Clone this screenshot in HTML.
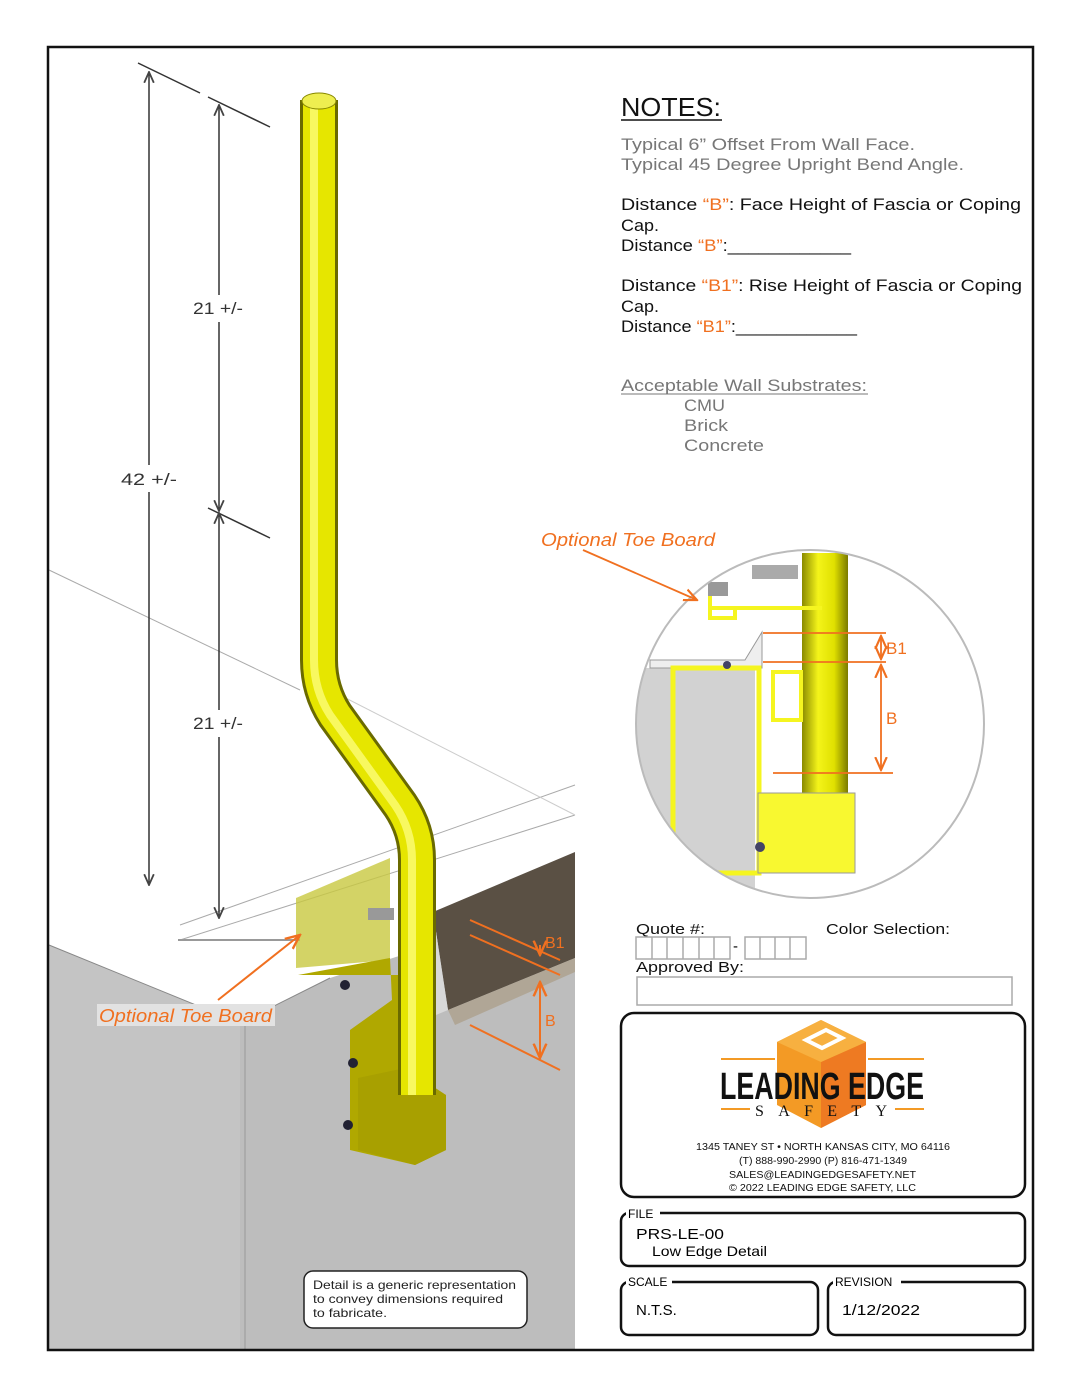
<!DOCTYPE html>
<html><head><meta charset="utf-8"><style>html,body{margin:0;padding:0;background:#fff}svg{display:block}</style></head>
<body>
<svg width="1080" height="1397" viewBox="0 0 1080 1397" xmlns="http://www.w3.org/2000/svg" font-family="Liberation Sans, sans-serif">
<defs>
<clipPath id="cc"><circle cx="810" cy="724" r="174"/></clipPath>
<linearGradient id="pg" x1="0" x2="1" y1="0" y2="0"><stop offset="0" stop-color="#8a8a00"/><stop offset="0.35" stop-color="#f4f41a"/><stop offset="0.7" stop-color="#e0e000"/><stop offset="1" stop-color="#7a7a00"/></linearGradient>
<marker id="ar" viewBox="0 0 10 10" refX="9" refY="5" markerWidth="8" markerHeight="8" orient="auto-start-reverse"><path d="M0,1 L9,5 L0,9" fill="none" stroke="#444" stroke-width="1.5"/></marker>
<marker id="ao" viewBox="0 0 10 10" refX="9" refY="5" markerWidth="8" markerHeight="8" orient="auto-start-reverse"><path d="M0,1 L9,5 L0,9" fill="none" stroke="#f07020" stroke-width="1.5"/></marker>
</defs>
<rect width="1080" height="1397" fill="#fff"/>
<polygon points="49,945 240,1023 240,1350 49,1350" fill="#c4c4c4"/>
<polygon points="240,1023 330,978 575,900 575,1350 240,1350" fill="#bdbdbd"/>
<line x1="245" y1="1023" x2="245" y2="1350" stroke="#999"/>
<polyline points="49,945 240,1023 330,978" fill="none" stroke="#888"/>
<line x1="49" y1="570" x2="300" y2="690" stroke="#aaa"/>
<line x1="180" y1="925" x2="575" y2="785" stroke="#aaa"/>
<line x1="180" y1="940" x2="575" y2="815" stroke="#aaa"/>
<line x1="178" y1="940" x2="300" y2="940" stroke="#999" stroke-width="2"/>
<line x1="330" y1="690" x2="575" y2="815" stroke="#ccc"/>
<polygon points="433,912 575,852 575,958 448,1010" fill="#5a5044"/>
<polygon points="448,1010 575,958 575,972 455,1025" fill="#b0a696"/>
<polygon points="433,912 448,1010 436,1015 425,918" fill="#d8d8d8"/>
<polygon points="296,898 390,858 390,960 296,968" fill="#c8c840" opacity="0.8"/>
<polygon points="298,975 390,958 392,1000 350,1030 350,1150 415,1165 446,1150 446,1095 405,1080 405,975" fill="#b0a800"/>
<polygon points="358,1078 405,1068 446,1095 446,1150 415,1165 358,1150" fill="#a8a000"/>
<circle cx="345" cy="985" r="5" fill="#223"/><circle cx="353" cy="1063" r="5" fill="#223"/><circle cx="348" cy="1125" r="5" fill="#223"/>
<rect x="368" y="908" width="26" height="12" fill="#999"/>
<path d="M319,100 L319,660 Q319,690 335,715 L400,805 Q417,830 417,860 L417,1095" fill="none" stroke="#6a6a00" stroke-width="38"/>
<path d="M319,100 L319,660 Q319,690 335,715 L400,805 Q417,830 417,860 L417,1095" fill="none" stroke="#e6e600" stroke-width="32"/>
<path d="M314,100 L314,660 Q314,690 330,715 L395,805 Q412,830 412,860 L412,1095" fill="none" stroke="#f8f860" stroke-width="8"/>
<ellipse cx="319" cy="101" rx="17" ry="8" fill="#eeee50" stroke="#888800"/>
<g stroke="#333" stroke-width="1.5">
<line x1="138" y1="63" x2="200" y2="93"/><line x1="208" y1="97" x2="270" y2="127"/><line x1="208" y1="508" x2="270" y2="538"/>
<line x1="149" y1="72" x2="149" y2="465" marker-start="url(#ar)"/><line x1="149" y1="492" x2="149" y2="885" marker-end="url(#ar)"/>
<line x1="219" y1="105" x2="219" y2="295" marker-start="url(#ar)"/><line x1="219" y1="322" x2="219" y2="511" marker-end="url(#ar)"/>
<line x1="219" y1="513" x2="219" y2="710" marker-start="url(#ar)"/><line x1="219" y1="737" x2="219" y2="918" marker-end="url(#ar)"/>
</g>
<g font-size="17" fill="#333"><text x="193" y="314" textLength="50" lengthAdjust="spacingAndGlyphs">21 +/-</text><text x="121" y="485" textLength="56" lengthAdjust="spacingAndGlyphs">42 +/-</text><text x="193" y="729" textLength="50" lengthAdjust="spacingAndGlyphs">21 +/-</text></g>
<g stroke="#f07020" stroke-width="2">
<line x1="470" y1="920" x2="560" y2="960"/><line x1="470" y1="935" x2="560" y2="975"/><line x1="470" y1="1025" x2="560" y2="1070"/>
<line x1="540" y1="982" x2="540" y2="1058" marker-start="url(#ao)" marker-end="url(#ao)"/>
<line x1="540" y1="945" x2="540" y2="955" marker-end="url(#ao)"/>
<line x1="218" y1="1000" x2="300" y2="935" marker-end="url(#ao)"/>
</g>
<rect x="97" y="1004" width="178" height="22" fill="#e2e2e2"/>
<text x="99" y="1022" font-size="18" font-style="italic" fill="#f07020" textLength="173" lengthAdjust="spacingAndGlyphs">Optional Toe Board</text>
<text x="545" y="948" font-size="16" fill="#f07020">B1</text><text x="545" y="1026" font-size="16" fill="#f07020">B</text>
<rect x="304" y="1271" width="223" height="57" rx="9" fill="#fff" stroke="#222" stroke-width="1.5"/>
<g font-size="12" fill="#222"><text x="313" y="1289" textLength="203" lengthAdjust="spacingAndGlyphs">Detail is a generic representation</text><text x="313" y="1303" textLength="190" lengthAdjust="spacingAndGlyphs">to convey dimensions required</text><text x="313" y="1317" textLength="74" lengthAdjust="spacingAndGlyphs">to fabricate.</text></g>
<g clip-path="url(#cc)">
<rect x="630" y="540" width="360" height="370" fill="#fff"/>
<rect x="630" y="668" width="125" height="250" fill="#d2d2d2"/>
<polygon points="650,660 745,660 762,632 762,668 650,668" fill="#eee" stroke="#999"/>
<rect x="673" y="668" width="86" height="205" fill="none" stroke="#f5f520" stroke-width="5"/>
<rect x="802" y="553" width="46" height="242" fill="url(#pg)"/>
<rect x="758" y="793" width="97" height="80" fill="#f8f830" stroke="#999" stroke-width="1"/>
<path d="M710,590 L710,618 L735,618 L735,608 M710,608 L822,608" fill="none" stroke="#f5f520" stroke-width="4"/>
<rect x="752" y="565" width="46" height="14" fill="#aaa"/>
<rect x="708" y="582" width="20" height="14" fill="#999"/>
<rect x="773" y="672" width="28" height="48" fill="none" stroke="#f5f520" stroke-width="4"/>
<circle cx="727" cy="665" r="4" fill="#446"/><circle cx="760" cy="847" r="5" fill="#446"/>
</g>
<circle cx="810" cy="724" r="174" fill="none" stroke="#bbb" stroke-width="2"/>
<g stroke="#f07020" stroke-width="1.8">
<line x1="763" y1="633" x2="886" y2="633"/><line x1="763" y1="662" x2="886" y2="662"/><line x1="773" y1="773" x2="893" y2="773"/>
<line x1="881" y1="636" x2="881" y2="659" marker-start="url(#ao)" marker-end="url(#ao)"/>
<line x1="881" y1="665" x2="881" y2="770" marker-start="url(#ao)" marker-end="url(#ao)"/>
<line x1="583" y1="550" x2="697" y2="600" marker-end="url(#ao)"/>
</g>
<text x="886" y="654" font-size="17" fill="#f07020">B1</text><text x="886" y="724" font-size="17" fill="#f07020">B</text>
<text x="541" y="546" font-size="18" font-style="italic" fill="#f07020" textLength="174" lengthAdjust="spacingAndGlyphs">Optional Toe Board</text>
<rect x="48" y="47" width="985" height="1303" fill="none" stroke="#111" stroke-width="2.5"/>
<text x="621" y="116" font-size="26" fill="#111" textLength="100" lengthAdjust="spacingAndGlyphs">NOTES:</text>
<line x1="621" y1="120" x2="722" y2="120" stroke="#111" stroke-width="1.5"/>
<g font-size="17">
<text x="621" y="150" fill="#777" textLength="294" lengthAdjust="spacingAndGlyphs">Typical 6” Offset From Wall Face.</text>
<text x="621" y="170" fill="#777" textLength="343" lengthAdjust="spacingAndGlyphs">Typical 45 Degree Upright Bend Angle.</text>
<text x="621" y="210" fill="#111" textLength="400" lengthAdjust="spacingAndGlyphs">Distance <tspan fill="#f07020">“B”</tspan>: Face Height of Fascia or Coping</text>
<text x="621" y="231" fill="#111" textLength="38" lengthAdjust="spacingAndGlyphs">Cap.</text>
<text x="621" y="251" fill="#111" textLength="230" lengthAdjust="spacingAndGlyphs">Distance <tspan fill="#f07020">“B”</tspan>:____________</text>
<text x="621" y="291" fill="#111" textLength="401" lengthAdjust="spacingAndGlyphs">Distance <tspan fill="#f07020">“B1”</tspan>: Rise Height of Fascia or Coping</text>
<text x="621" y="312" fill="#111" textLength="38" lengthAdjust="spacingAndGlyphs">Cap.</text>
<text x="621" y="332" fill="#111" textLength="236" lengthAdjust="spacingAndGlyphs">Distance <tspan fill="#f07020">“B1”</tspan>:____________</text>
<text x="621" y="391" fill="#777" textLength="246" lengthAdjust="spacingAndGlyphs">Acceptable Wall Substrates:</text>
<text x="684" y="411" fill="#777" textLength="41" lengthAdjust="spacingAndGlyphs">CMU</text><text x="684" y="431" fill="#777" textLength="44" lengthAdjust="spacingAndGlyphs">Brick</text><text x="684" y="451" fill="#777" textLength="80" lengthAdjust="spacingAndGlyphs">Concrete</text>
</g>
<line x1="621" y1="394" x2="868" y2="394" stroke="#777"/>
<g font-size="15" fill="#111"><text x="636" y="934" textLength="69" lengthAdjust="spacingAndGlyphs">Quote #:</text><text x="826" y="934" textLength="124" lengthAdjust="spacingAndGlyphs">Color Selection:</text><text x="636" y="972" textLength="108" lengthAdjust="spacingAndGlyphs">Approved By:</text></g>
<g fill="none" stroke="#aaa" stroke-width="1.5">
<rect x="636" y="937" width="94" height="22"/><line x1="652" y1="937" x2="652" y2="959"/><line x1="667" y1="937" x2="667" y2="959"/><line x1="683" y1="937" x2="683" y2="959"/><line x1="699" y1="937" x2="699" y2="959"/><line x1="714" y1="937" x2="714" y2="959"/>
<rect x="745" y="937" width="61" height="22"/><line x1="760" y1="937" x2="760" y2="959"/><line x1="775" y1="937" x2="775" y2="959"/><line x1="790" y1="937" x2="790" y2="959"/>
<rect x="637" y="977" width="375" height="28"/></g>
<text x="733" y="951" font-size="15">-</text>
<rect x="621" y="1013" width="404" height="184" rx="13" fill="none" stroke="#111" stroke-width="2.5"/>
<polygon points="777,1042 821,1020 866,1042 866,1105 821,1128 777,1105" fill="#f39a25"/>
<polygon points="821,1062 866,1042 866,1105 821,1128" fill="#ee7a22"/>
<polygon points="777,1042 821,1020 866,1042 821,1062" fill="#f7b040"/>
<path d="M806,1040 L826,1030 L842,1038 L822,1048 Z" fill="none" stroke="#fff" stroke-width="4"/>
<line x1="721" y1="1059" x2="775" y2="1059" stroke="#f39a25" stroke-width="2"/><line x1="868" y1="1059" x2="924" y2="1059" stroke="#f39a25" stroke-width="2"/>
<line x1="721" y1="1109" x2="750" y2="1109" stroke="#f39a25" stroke-width="2"/><line x1="895" y1="1109" x2="924" y2="1109" stroke="#f39a25" stroke-width="2"/>
<text x="720" y="1099" font-size="38" font-weight="bold" fill="#111" textLength="204" lengthAdjust="spacingAndGlyphs">LEADING EDGE</text>
<text x="755" y="1116" font-size="16" font-family="Liberation Serif, serif" fill="#111" textLength="132">SAFETY</text>
<g font-size="10" fill="#111"><text x="696" y="1150" textLength="254" lengthAdjust="spacingAndGlyphs">1345 TANEY ST • NORTH KANSAS CITY, MO 64116</text><text x="739" y="1164" textLength="168" lengthAdjust="spacingAndGlyphs">(T) 888-990-2990 (P) 816-471-1349</text><text x="729" y="1178" textLength="187" lengthAdjust="spacingAndGlyphs">SALES@LEADINGEDGESAFETY.NET</text><text x="729" y="1191" textLength="187" lengthAdjust="spacingAndGlyphs">© 2022 LEADING EDGE SAFETY, LLC</text></g>
<rect x="621" y="1213" width="404" height="53" rx="8" fill="none" stroke="#111" stroke-width="2.5"/>
<rect x="626" y="1206" width="34" height="14" fill="#fff"/><text x="628" y="1218" font-size="12">FILE</text>
<text x="636" y="1239" font-size="15" textLength="88" lengthAdjust="spacingAndGlyphs">PRS-LE-00</text><text x="652" y="1256" font-size="14" textLength="115" lengthAdjust="spacingAndGlyphs">Low Edge Detail</text>
<rect x="621" y="1282" width="197" height="53" rx="8" fill="none" stroke="#111" stroke-width="2.5"/>
<rect x="626" y="1275" width="46" height="14" fill="#fff"/><text x="628" y="1286" font-size="12">SCALE</text>
<text x="636" y="1315" font-size="15">N.T.S.</text>
<rect x="828" y="1282" width="197" height="53" rx="8" fill="none" stroke="#111" stroke-width="2.5"/>
<rect x="833" y="1275" width="68" height="14" fill="#fff"/><text x="835" y="1286" font-size="12">REVISION</text>
<text x="842" y="1315" font-size="15" textLength="78" lengthAdjust="spacingAndGlyphs">1/12/2022</text>
</svg>
</body></html>
